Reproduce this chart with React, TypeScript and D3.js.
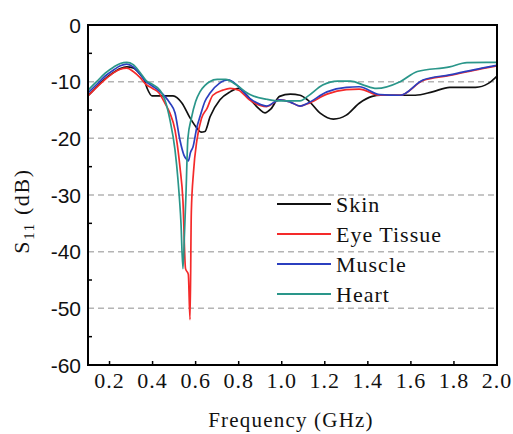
import React from "react";
import * as d3 from "d3";

const W = 513;
const H = 434;
const M = { left: 88, right: 497, top: 25, bottom: 365 };

const yTicks = [0, -10, -20, -30, -40, -50, -60];
const yMinor = [-5, -15, -25, -35, -45, -55];
const gridVals = [-10, -20, -30, -40, -50];
const xTicks = [0.2, 0.4, 0.6, 0.8, 1.0, 1.2, 1.4, 1.6, 1.8, 2.0];
const xTickMarks = [0.2, 0.4, 0.6, 0.8, 1.0, 1.2, 1.4, 1.6, 1.8];

const seriesNames = ["Skin", "Eye Tissue", "Muscle", "Heart"];
const seriesColors = ["#111111", "#f42a2a", "#2b3fbf", "#2a968a"];

const freqSkin = [0.10, 0.13, 0.17, 0.21, 0.25, 0.28, 0.31, 0.34, 0.36, 0.375, 0.397, 0.45, 0.495, 0.537, 0.574, 0.606, 0.625, 0.643, 0.667, 0.713, 0.76, 0.80, 0.835, 0.862, 0.895, 0.922, 0.95, 0.99, 1.04, 1.085, 1.12, 1.18, 1.24, 1.30, 1.36, 1.42, 1.46, 1.54, 1.62, 1.70, 1.78, 1.90, 1.96, 2.0];
const s11Skin = [-12.5, -11.3, -9.8, -8.6, -7.7, -7.4, -7.6, -8.6, -9.6, -11.2, -12.5, -12.5, -12.5, -13.8, -16.4, -18.2, -18.9, -18.8, -16.2, -13.2, -11.8, -11.2, -12.3, -13.5, -14.8, -15.5, -14.8, -12.6, -12.2, -12.4, -13.2, -15.6, -16.6, -15.9, -13.8, -12.6, -12.4, -12.4, -12.4, -11.8, -11.0, -11.0, -10.3, -9.0];

const freqEye = [0.10, 0.14, 0.18, 0.22, 0.25, 0.28, 0.31, 0.34, 0.37, 0.40, 0.43, 0.457, 0.48, 0.504, 0.527, 0.541, 0.553, 0.566, 0.574, 0.58, 0.59, 0.606, 0.627, 0.653, 0.68, 0.727, 0.76, 0.80, 0.85, 0.90, 0.93, 0.99, 1.04, 1.085, 1.12, 1.21, 1.30, 1.36, 1.456, 1.55, 1.656, 1.78, 1.93, 2.0];
const s11Eye = [-12.5, -11.0, -9.6, -8.4, -7.8, -7.6, -8.2, -9.2, -10.5, -11.2, -12.0, -13.8, -15.5, -18.5, -25.0, -31.0, -43.0, -44.0, -52.0, -33.0, -26.0, -20.3, -16.5, -14.7, -12.4, -11.5, -11.2, -11.5, -13.2, -14.2, -14.4, -13.2, -13.6, -14.3, -13.9, -12.2, -11.4, -11.3, -12.4, -12.4, -9.8, -8.9, -7.7, -7.2];

const freqMuscle = [0.10, 0.14, 0.18, 0.22, 0.25, 0.28, 0.31, 0.34, 0.37, 0.40, 0.43, 0.457, 0.481, 0.504, 0.527, 0.546, 0.56, 0.566, 0.576, 0.588, 0.606, 0.62, 0.643, 0.667, 0.71, 0.75, 0.80, 0.85, 0.90, 0.93, 0.99, 1.04, 1.085, 1.12, 1.21, 1.30, 1.36, 1.456, 1.55, 1.656, 1.78, 1.93, 2.0];
const s11Muscle = [-12.0, -10.5, -9.0, -7.9, -7.2, -6.9, -7.4, -8.6, -10.0, -10.8, -11.6, -12.6, -13.8, -15.5, -20.3, -23.0, -23.8, -24.0, -22.5, -21.5, -18.0, -16.2, -13.5, -12.0, -10.3, -9.7, -10.9, -12.9, -14.0, -14.3, -13.2, -13.6, -14.3, -13.8, -11.8, -11.0, -10.9, -12.3, -12.4, -9.7, -8.8, -7.6, -7.1];

const freqHeart = [0.10, 0.14, 0.18, 0.22, 0.25, 0.28, 0.31, 0.34, 0.37, 0.40, 0.434, 0.457, 0.481, 0.504, 0.518, 0.532, 0.541, 0.548, 0.555, 0.564, 0.58, 0.60, 0.62, 0.645, 0.665, 0.70, 0.74, 0.79, 0.84, 0.86, 0.93, 0.99, 1.085, 1.12, 1.19, 1.26, 1.32, 1.38, 1.44, 1.55, 1.63, 1.78, 1.86, 2.0];
const s11Heart = [-11.5, -10.0, -8.5, -7.4, -6.8, -6.6, -7.0, -8.3, -9.8, -10.5, -11.5, -13.2, -16.8, -22.0, -27.3, -35.0, -43.0, -37.0, -30.0, -20.0, -16.5, -13.5, -11.8, -10.6, -10.0, -9.6, -9.6, -10.6, -12.0, -12.4, -13.1, -13.4, -13.4, -12.6, -10.6, -9.9, -9.9, -10.6, -11.2, -10.0, -8.2, -7.4, -6.65, -6.6];

const freqs = [freqSkin, freqEye, freqMuscle, freqHeart];
const values = [s11Skin, s11Eye, s11Muscle, s11Heart];

export default function App() {
  const x = d3.scaleLinear().domain([0.1, 2.0]).range([M.left, M.right]);
  const y = d3.scaleLinear().domain([0, -60]).range([M.top, M.bottom]);
  const line = d3
    .line<[number, number]>()
    .x((d) => x(d[0]))
    .y((d) => y(d[1]))
    .curve(d3.curveMonotoneX);

  const serif = "'Liberation Serif', 'Times New Roman', serif";
  const sans = "'Liberation Sans', Arial, sans-serif";

  const legendY = [204, 234, 264, 294];

  return (
    <svg
      width={W}
      height={H}
      style={{ position: "absolute", left: 0, top: 0, background: "#fff" }}
    >
      <defs>
        <clipPath id="plotclip">
          <rect x={M.left} y={M.top} width={M.right - M.left} height={M.bottom - M.top} />
        </clipPath>
      </defs>
      {gridVals.map((v) => (
        <line
          key={"g" + v}
          x1={M.left}
          x2={M.right}
          y1={y(v)}
          y2={y(v)}
          stroke="#b4b4b4"
          strokeWidth={1.5}
          strokeDasharray="6,4"
        />
      ))}
      <g clipPath="url(#plotclip)">
        {values.map((vals, i) => (
          <path
            key={"s" + i}
            d={line(freqs[i].map((f, j) => [f, vals[j]] as [number, number])) || ""}
            fill="none"
            stroke={seriesColors[i]}
            strokeWidth={1.7}
          />
        ))}
      </g>
      <rect
        x={M.left}
        y={M.top}
        width={M.right - M.left}
        height={M.bottom - M.top}
        fill="none"
        stroke="#000"
        strokeWidth={2}
      />
      {yMinor.map((v) => (
        <line key={"ym" + v} x1={M.left} x2={M.left + 4} y1={y(v)} y2={y(v)} stroke="#000" strokeWidth={1.5} />
      ))}
      {xTickMarks.map((v) => (
        <line key={"xt" + v} x1={x(v)} x2={x(v)} y1={M.bottom} y2={M.bottom - 4} stroke="#000" strokeWidth={1.5} />
      ))}
      {yTicks.map((v) => (
        <text
          key={"yl" + v}
          x={81}
          y={y(v) + 7.5}
          textAnchor="end"
          fontFamily={sans}
          fontSize={21}
          fill="#111"
        >
          {v}
        </text>
      ))}
      {xTicks.map((v) => (
        <text
          key={"xl" + v}
          x={x(v)}
          y={388}
          textAnchor="middle"
          fontFamily={serif}
          fontSize={22}
          letterSpacing={1}
          fill="#111"
        >
          {v.toFixed(1)}
        </text>
      ))}
      <text
        x={291}
        y={427}
        textAnchor="middle"
        fontFamily={serif}
        fontSize={21}
        letterSpacing={1.2}
        fill="#111"
      >
        Frequency (GHz)
      </text>
      <text
        transform="translate(29,211) rotate(-90)"
        textAnchor="middle"
        fontFamily={serif}
        fontSize={22}
        letterSpacing={1.6}
        fill="#111"
      >
        S<tspan fontSize={15} dy={5}>11</tspan>
        <tspan dy={-5}> (dB)</tspan>
      </text>
      {seriesNames.map((n, i) => (
        <g key={"lg" + i}>
          <line
            x1={277}
            x2={331}
            y1={legendY[i]}
            y2={legendY[i]}
            stroke={seriesColors[i]}
            strokeWidth={2}
          />
          <text
            x={336}
            y={legendY[i] + 7.5}
            fontFamily={serif}
            fontSize={22}
            letterSpacing={1}
            fill="#111"
          >
            {n}
          </text>
        </g>
      ))}
    </svg>
  );
}
